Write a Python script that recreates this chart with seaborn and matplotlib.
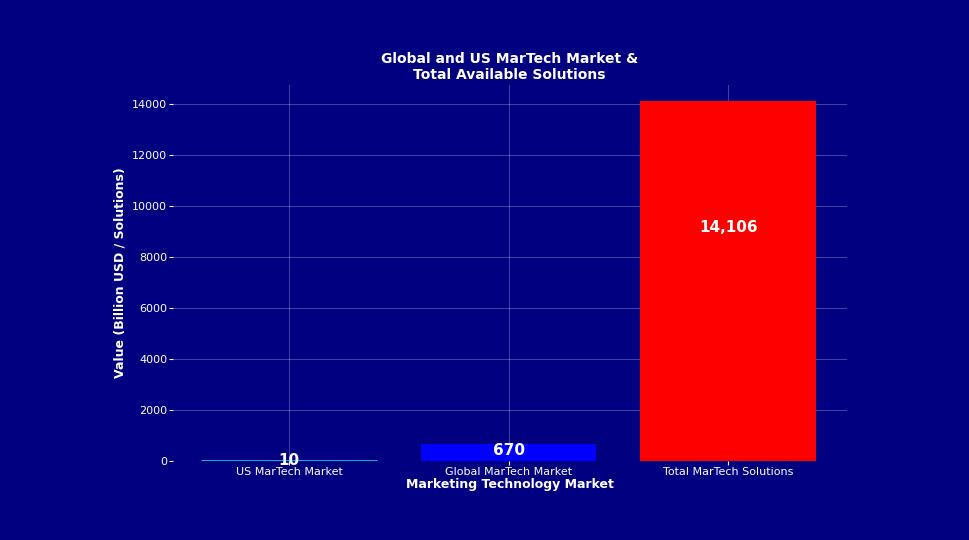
import matplotlib
matplotlib.use("Agg")
import matplotlib.pyplot as plt
import seaborn as sns
import pandas as pd

categories = ["US MarTech Market", "Global MarTech Market", "Total MarTech Solutions"]
values = [10, 670, 14106]
colors = ["#00CED1", "#0000FF", "#FF0000"]
bg = "#000080"

df = pd.DataFrame({"market": categories, "value": values})

fig = plt.figure(figsize=(9.7, 5.4), dpi=100, facecolor=bg)
ax = fig.add_axes([0.178, 0.146, 0.695, 0.697])
ax.set_facecolor(bg)
sns.barplot(data=df, x="market", y="value", hue="market", palette=colors,
            legend=False, width=0.8, ax=ax, saturation=1)
# tiny US bar shown as an outline
ax.patches[0].set_edgecolor(colors[0])
ax.patches[0].set_linewidth(2)

for i, v in enumerate(values):
    ax.text(i, v * 0.65, f"{v:,}", ha="center", va="center",
            color="white", fontsize=11, fontweight="bold")

ax.set_xlim(-0.53, 2.54)
ax.set_ylim(0, 14750)
ax.set_yticks(range(0, 14001, 2000))
ax.grid(True, color="white", alpha=0.25, linewidth=0.8)
ax.set_axisbelow(True)
for s in ax.spines.values():
    s.set_visible(False)
ax.tick_params(colors="white", labelsize=8, length=3, pad=1)
ax.set_xlabel("Marketing Technology Market", color="white", fontsize=9,
              fontweight="bold", labelpad=1)
ax.set_ylabel("Value (Billion USD / Solutions)", color="white", fontsize=9,
              fontweight="bold")
ax.set_title("Global and US MarTech Market &\nTotal Available Solutions",
             color="white", fontsize=10, fontweight="bold", pad=4)

fig.savefig("out.png", facecolor=bg)
